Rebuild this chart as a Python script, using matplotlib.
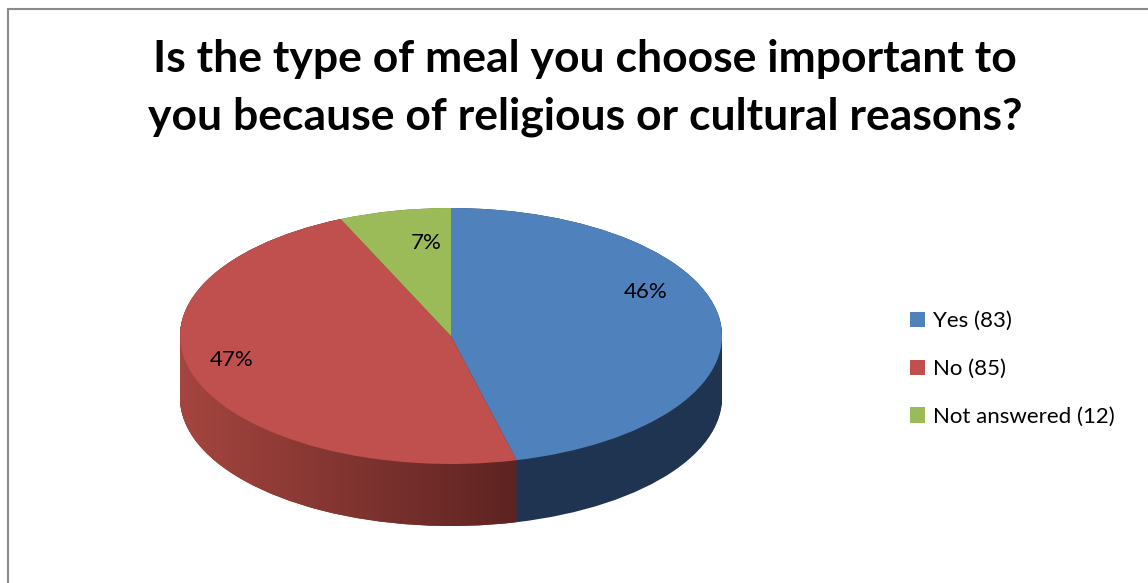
import numpy as np
import matplotlib
matplotlib.use('Agg')
import matplotlib.pyplot as plt
from matplotlib.path import Path
from matplotlib.patches import PathPatch, Rectangle
from matplotlib.colors import to_rgb

plt.rcParams['font.family'] = ['Lato', 'DejaVu Sans']

## Data ##
title = "Is the type of meal you choose important to\nyou because of religious or cultural reasons?"
labels = ['Yes', 'No', 'Not answered']
counts = [83, 85, 12]

## Style ##
top_colors = ['#4F81BD', '#C0504D', '#9BBB59']
side_colors = ['#1F3450', '#7A302D', '#5E7536']
red_side_grad = ('#A5453F', '#5A2220')
# where each percent label sits, in unit-pie coordinates
label_pos = [(0.72, 0.34), (-0.81, -0.19), (-0.09, 0.73)]

W, H = 1148, 583
fig = plt.figure(figsize=(W / 100, H / 100), dpi=100)

# pie region in pixels
x_left, x_right = 180, 722
top_y, rv, depth = 208, 128, 62
depth_u = depth / rv
ax_h = 2 * rv + depth
ax = fig.add_axes([x_left / W, 1 - (top_y + ax_h) / H, (x_right - x_left) / W, ax_h / H])

pie_kw = dict(startangle=90, counterclock=False, radius=1, wedgeprops=dict(linewidth=0))

## side wall: stacked copies of the pie shifted downwards ##
red_paths = []
for d in np.linspace(depth_u, 0.0, 60):
    wedges, _ = ax.pie(counts, colors=side_colors, center=(0, -d), **pie_kw)
    red_paths.append(wedges[1].get_path())

# horizontal shading on the red side
c0, c1 = np.array(to_rgb(red_side_grad[0])), np.array(to_rgb(red_side_grad[1]))
t = np.clip((np.linspace(-1, 1, 400) + 1) / 1.3, 0, 1)
grad = (c0[None, :] * (1 - t[:, None]) + c1[None, :] * t[:, None])[None, :, :]
img = ax.imshow(grad, extent=(-1, 1, -1 - depth_u, 1), aspect='auto', zorder=1.5)
clip = PathPatch(Path.make_compound_path(*red_paths), transform=ax.transData,
                 facecolor='none', edgecolor='none')
ax.add_patch(clip)
img.set_clip_path(clip)

## top face ##
top_wedges, _, autotexts = ax.pie(counts, colors=top_colors, center=(0, 0),
                                  autopct=lambda p: f'{p:.0f}%', **pie_kw)
for w in top_wedges:
    w.set_zorder(3)
for txt, pos in zip(autotexts, label_pos):
    txt.set_position(pos)
    txt.set_fontsize(16)
    txt.set_zorder(4)

ax.set_aspect('auto')
ax.set_xlim(-1, 1)
ax.set_ylim(-1 - depth_u, 1)
ax.axis('off')

## title, legend, frame ##
fig.text(585 / W, 1 - 88 / H, title, ha='center', va='center', fontsize=32,
         fontweight='bold', linespacing=1.55)

fig.legend(top_wedges, [f'{l} ({c})' for l, c in zip(labels, counts)],
           loc='center left', bbox_to_anchor=(901 / W, 1 - 369 / H), frameon=False,
           fontsize=16, handlelength=0.68, handleheight=0.68, handletextpad=0.35,
           labelspacing=1.25, borderaxespad=0)

fig.add_artist(Rectangle((7.5 / W, -0.1), 1.2, 1.1 - 8.5 / H, transform=fig.transFigure,
                         fill=False, edgecolor='#8A8A8A', linewidth=1.5))

fig.savefig('out.png', dpi=100)
